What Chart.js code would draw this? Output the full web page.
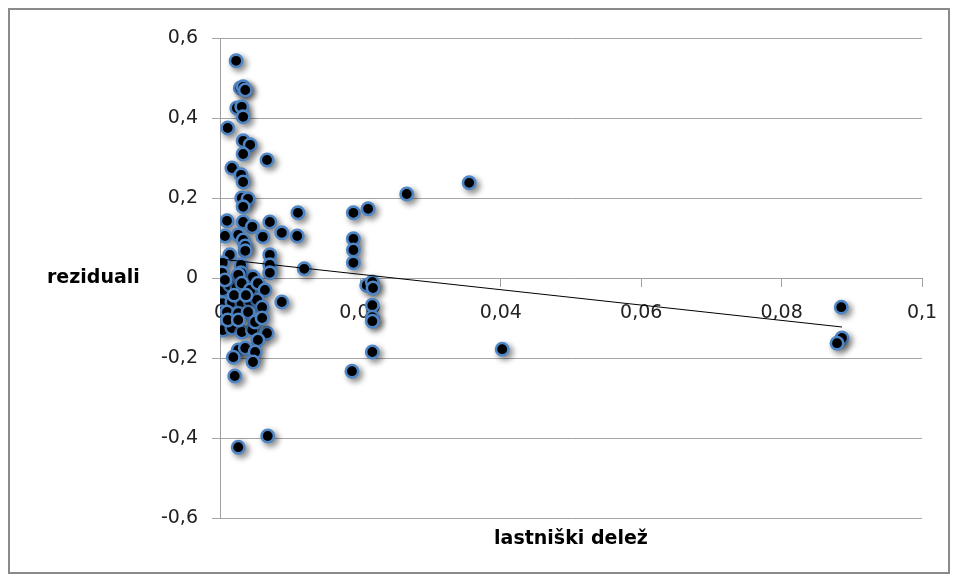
<!DOCTYPE html>
<html>
<head>
<meta charset="utf-8">
<script src="https://cdn.jsdelivr.net/npm/chart.js@4/dist/chart.umd.min.js"></script>
<style>
  body { margin: 0; background: #fff; }
  #wrap { position: relative; width: 958px; height: 581px; }
  #myChart { position: absolute; left: 0; top: 0; }
  #frame { position: absolute; left: 8px; top: 8px; width: 942px; height: 566px;
           box-sizing: border-box; border: 2px solid #8a8a8a; pointer-events: none; }
</style>
</head>
<body>
<div id="wrap">
  <canvas id="myChart" width="958" height="581"></canvas>
  <div id="frame"></div>
</div>
<script>
// values
var delez = [0.0023, 0.0029, 0.0033, 0.0036, 0.0024, 0.0031, 0.0033, 0.0011, 0.0033, 0.0043,
             0.0033, 0.0067, 0.0017, 0.0030, 0.0033, 0.0031, 0.0040, 0.0033, 0.0111, 0.0010,
             0.0033, 0.0046, 0.0071, 0.0007, 0.0026, 0.0033, 0.0061, 0.0088, 0.0110, 0.0036,
             0.0036, 0.0014, 0.0071, 0.0004, 0.0030, 0.0071, 0.0120, 0.0003, 0.0030, 0.0047,
             0.0071, 0.0026, 0.0004, 0.0014, 0.0024, 0.0031, 0.0043, 0.0054, 0.0064, 0.0003,
             0.0017, 0.0031, 0.0043, 0.0053, 0.0060, 0.0088, 0.0003, 0.0010, 0.0026, 0.0040,
             0.0004, 0.0017, 0.0031, 0.0046, 0.0050, 0.0067, 0.0054, 0.0026, 0.0036, 0.0050,
             0.0019, 0.0047, 0.0021, 0.0068, 0.0026, 0.0007, 0.0020, 0.0037, 0.0011, 0.0060,
             0.0026, 0.0266, 0.0355, 0.0190, 0.0211, 0.0190, 0.0190, 0.0190, 0.0209, 0.0217,
             0.0218, 0.0217, 0.0217, 0.0217, 0.0217, 0.0402, 0.0188, 0.0885, 0.0886, 0.0879];

var reziduali = [0.543, 0.475, 0.478, 0.470, 0.425, 0.428, 0.403, 0.375, 0.343, 0.333,
                 0.310, 0.295, 0.275, 0.258, 0.240, 0.200, 0.198, 0.178, 0.163, 0.143,
                 0.140, 0.128, 0.140, 0.105, 0.108, 0.095, 0.103, 0.113, 0.105, 0.080,
                 0.068, 0.058, 0.058, 0.038, 0.033, 0.033, 0.023, 0.013, 0.013, 0.003,
                 0.013, 0.008, -0.030, -0.018, -0.023, -0.013, -0.030, -0.013, -0.030, -0.063,
                 -0.060, -0.063, -0.060, -0.055, -0.073, -0.060, -0.085, -0.085, -0.088, -0.085,
                 -0.130, -0.125, -0.135, -0.130, -0.110, -0.138, -0.155, -0.180, -0.175, -0.185,
                 -0.198, -0.210, -0.245, -0.395, -0.423, -0.005, -0.043, -0.043, -0.105, -0.100,
                 -0.105, 0.210, 0.238, 0.163, 0.173, 0.098, 0.070, 0.038, -0.018, -0.010,
                 -0.025, -0.068, -0.098, -0.108, -0.185, -0.178, -0.233, -0.073, -0.150, -0.163];

// linear trend line end points
var trendX = [0, 0.0886];
var trendY = [0.0475, -0.1225];

var xTickLabels = ["0", "0,02", "0,04", "0,06", "0,08", "0,1"];
var yTickLabels = ["-0,6", "-0,4", "-0,2", "0", "0,2", "0,4", "0,6"];

var points = delez.map(function (x, i) { return { x: x, y: reziduali[i] }; });
var trend = trendX.map(function (x, i) { return { x: x, y: trendY[i] }; });

// soft drop shadow under the markers, like the original
var shadowPlugin = {
  id: "markerShadow",
  beforeDatasetDraw: function (chart, args) {
    if (args.index === 0) {
      var ctx = chart.ctx;
      ctx.save();
      ctx.shadowColor = "rgba(0,0,0,0.45)";
      ctx.shadowBlur = 6;
      ctx.shadowOffsetX = 3;
      ctx.shadowOffsetY = 3;
    }
  },
  afterDatasetDraw: function (chart, args) {
    if (args.index === 0) chart.ctx.restore();
  }
};

// axis titles, the y one is written horizontally
var titlePlugin = {
  id: "axisTitles",
  afterDraw: function (chart) {
    var ctx = chart.ctx, a = chart.chartArea;
    ctx.save();
    ctx.fillStyle = "#000";
    ctx.font = "bold 19px 'DejaVu Sans'";
    ctx.textBaseline = "middle";
    ctx.textAlign = "left";
    ctx.fillText("reziduali", 47, chart.scales.y.getPixelForValue(0));
    ctx.textAlign = "center";
    ctx.fillText("lastniški delež", (a.left + a.right) / 2, 539);
    ctx.restore();
  }
};

new Chart("myChart", {
  type: "scatter",
  data: {
    datasets: [{
      data: points,
      backgroundColor: "#000",
      borderColor: "#4f86c6",
      borderWidth: 2.6,
      pointRadius: 6.2,
      pointHoverRadius: 6.2,
      order: 1
    }, {
      type: "line",
      data: trend,
      borderColor: "#000",
      borderWidth: 1,
      pointRadius: 0,
      fill: false,
      order: 0
    }]
  },
  options: {
    responsive: false,
    animation: false,
    events: [],
    layout: { padding: { left: 0, right: 36, top: 38, bottom: 63 } },
    plugins: { legend: { display: false }, tooltip: { enabled: false } },
    scales: {
      x: {
        type: "linear",
        min: 0, max: 0.1,
        position: { y: 0 },
        grid: { drawOnChartArea: false, drawTicks: true, tickLength: 8, color: "#a0a0a0" },
        border: { display: true, color: "#a0a0a0" },
        ticks: {
          stepSize: 0.02,
          padding: 16,
          color: "#222",
          font: { family: "DejaVu Sans", size: 19 },
          maxRotation: 0,
          callback: function (v, i) { return xTickLabels[i]; }
        }
      },
      y: {
        min: -0.6, max: 0.6,
        afterFit: function (scale) { scale.width = 220; },
        grid: { color: "#a6a6a6", tickLength: 8 },
        border: { display: true, color: "#a0a0a0" },
        ticks: {
          stepSize: 0.2,
          padding: 14,
          color: "#222",
          font: { family: "DejaVu Sans", size: 19 },
          callback: function (v, i) { return yTickLabels[i]; }
        }
      }
    }
  },
  plugins: [shadowPlugin, titlePlugin]
});
</script>
</body>
</html>
